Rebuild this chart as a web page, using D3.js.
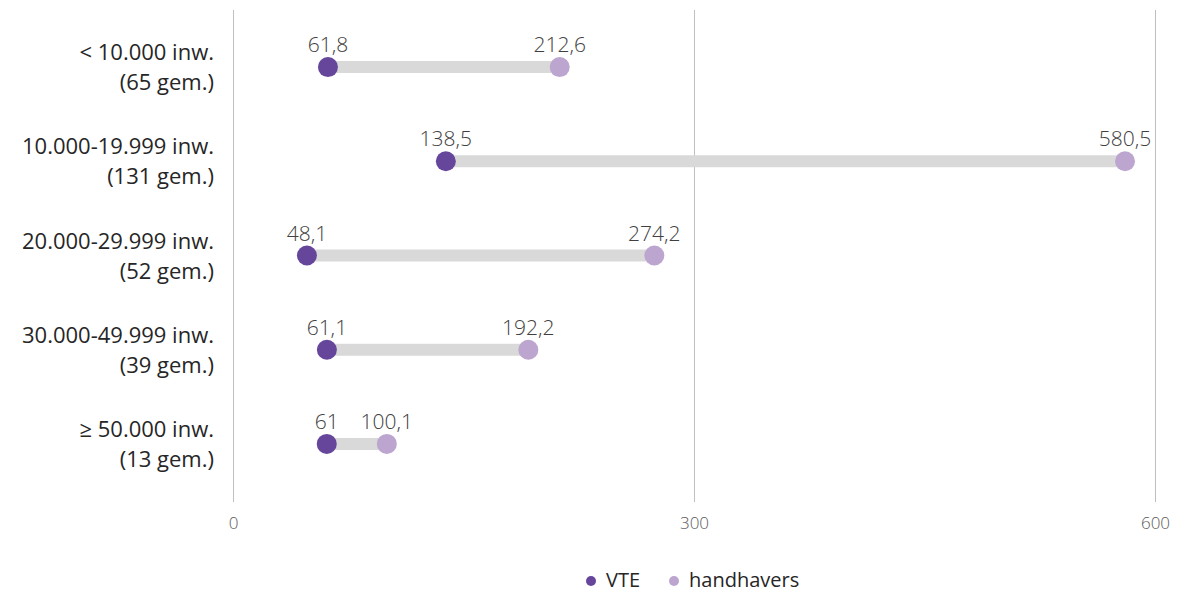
<!DOCTYPE html>
<html>
<head>
<meta charset="utf-8">
<script src="https://cdn.jsdelivr.net/npm/d3@7"></script>
<style>
  body { margin: 0; background: #fff; }
  text { font-family: "Open Sans", "Noto Sans", sans-serif; }
</style>
</head>
<body>
<div id="chart"></div>
<script>

var categories = ['< 10.000 inw.|(65 gem.)', '10.000-19.999 inw.|(131 gem.)', '20.000-29.999 inw.|(52 gem.)',
    '30.000-49.999 inw.|(39 gem.)', '≥ 50.000 inw.|(13 gem.)']
var vte = [61.8, 138.5, 48.1, 61.1, 61]
var handhavers = [212.6, 580.5, 274.2, 192.2, 100.1]
var vte_labels = ['61,8', '138,5', '48,1', '61,1', '61']
var hh_labels = ['212,6', '580,5', '274,2', '192,2', '100,1']
var ticks = [0, 300, 600]
var series = ['VTE', 'handhavers']

var W = 1181, H = 593
var colors = { VTE: '#65469b', handhavers: '#bca5cf' }

var svg = d3.select('#chart').append('svg').attr('width', W).attr('height', H)

var x = d3.scaleLinear().domain([0, 600]).range([233, 1155])
var y = d3.scaleBand().domain(categories).range([20, 491]).paddingInner(0).paddingOuter(0)

// gridlines
svg.selectAll('line.grid')
    .data(ticks)
    .enter()
    .append('line')
    .attr('x1', d => x(d) + 0.5)
    .attr('x2', d => x(d) + 0.5)
    .attr('y1', 10)
    .attr('y2', 502)
    .attr('stroke', '#bfbfbf')
    .attr('stroke-width', 1)

var xaxis = d3.axisBottom(x).tickValues(ticks).tickSize(0).tickPadding(0)
var gx = svg.append('g').attr('transform', 'translate(0,523)').call(xaxis)
gx.select('.domain').remove()
gx.selectAll('text')
    .attr('y', 0)
    .attr('dy', '0.35em')
    .style('font-size', '17px')
    .style('font-weight', '300')
    .attr('fill', '#595959')

var rows = categories.map(function (c, i) {
    return { cat: c, vte: vte[i], hh: handhavers[i], vl: vte_labels[i], hl: hh_labels[i] }
})

var row = svg.selectAll('g.row')
    .data(rows)
    .enter()
    .append('g')
    .classed('row', true)
    .attr('transform', d => 'translate(0,' + (y(d.cat) + y.bandwidth() / 2) + ')')

row.append('line')
    .attr('x1', d => x(d.vte))
    .attr('x2', d => x(d.hh))
    .attr('stroke', '#d9d9d9')
    .attr('stroke-width', 12)

row.append('circle')
    .attr('cx', d => x(d.vte))
    .attr('r', 10)
    .attr('fill', colors.VTE)

row.append('circle')
    .attr('cx', d => x(d.hh))
    .attr('r', 10)
    .attr('fill', colors.handhavers)

row.append('text')
    .attr('x', d => x(d.vte))
    .attr('y', -15)
    .attr('text-anchor', 'middle')
    .style('font-size', '21px')
    .style('font-weight', '300')
    .attr('fill', '#404040')
    .text(d => d.vl)

row.append('text')
    .attr('x', d => x(d.hh))
    .attr('y', -15)
    .attr('text-anchor', 'middle')
    .style('font-size', '21px')
    .style('font-weight', '300')
    .attr('fill', '#404040')
    .text(d => d.hl)

var lbl = row.append('text')
    .attr('text-anchor', 'end')
    .style('font-size', '22px')
    .attr('fill', '#262626')
lbl.selectAll('tspan')
    .data(d => d.cat.split('|'))
    .enter()
    .append('tspan')
    .attr('x', 214)
    .attr('y', (d, i) => i == 0 ? -7 : 23)
    .text(d => d)

// legend
var leg = svg.append('g').attr('transform', 'translate(0,580)')
var lx = [591, 674]
series.forEach(function (s, i) {
    leg.append('circle').attr('cx', lx[i]).attr('cy', 1).attr('r', 5).attr('fill', colors[s])
    leg.append('text')
        .attr('x', lx[i] + 15)
        .attr('y', 0)
        .attr('dy', '0.35em')
        .style('font-size', '20px')
        .attr('fill', '#262626')
        .text(s)
})
</script>
</body>
</html>
